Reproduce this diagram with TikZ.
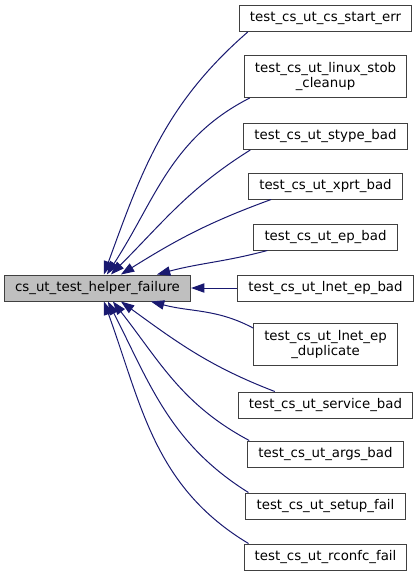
\documentclass[tikz,border=0pt]{standalone}
\usepackage{fontspec}
\setmainfont{DejaVu Sans}
\usetikzlibrary{arrows.meta,calc}
\definecolor{Edge}{HTML}{191970}
\definecolor{Frame}{HTML}{404040}
\definecolor{Focus}{HTML}{BFBFBF}

\begin{document}
\begin{tikzpicture}[x=0.75pt,y=0.75pt,
    func/.style={draw=Frame,fill=white,line width=0.75pt,minimum height=19.5pt,
      inner xsep=8pt,inner ysep=2pt,font=\fontsize{10}{11.5}\selectfont,align=center},
    cur/.style={func,fill=Focus},
    call/.style={Edge,line width=0.75pt,-{Triangle[length=10pt,width=7pt]}}
  ]
    \useasboundingbox (0,0) rectangle (419,-576);
    \node[cur] (main) at (97.5,-288) {cs\_ut\_test\_helper\_failure};
    \node[func] (c1) at (325.5,-18.5) {test\_cs\_ut\_cs\_start\_err};
    \node[func,minimum height=31.5pt] (c2) at (325.5,-76.5) {test\_cs\_ut\_linux\_stob\\\_cleanup};
    \node[func] (c3) at (325.5,-136.5) {test\_cs\_ut\_stype\_bad};
    \node[func] (c4) at (325.5,-186) {test\_cs\_ut\_xprt\_bad};
    \node[func] (c5) at (325.5,-237) {test\_cs\_ut\_ep\_bad};
    \node[func] (c6) at (325.5,-288) {test\_cs\_ut\_lnet\_ep\_bad};
    \node[func,minimum height=31.5pt] (c7) at (325.5,-344.5) {test\_cs\_ut\_lnet\_ep\\\_duplicate};
    \node[func] (c8) at (325.5,-405) {test\_cs\_ut\_service\_bad};
    \node[func] (c9) at (325.5,-454) {test\_cs\_ut\_args\_bad};
    \node[func] (c10) at (325.5,-506) {test\_cs\_ut\_setup\_fail};
    \node[func] (c11) at (325.5,-557) {test\_cs\_ut\_rconfc\_fail};
    % callers above the box
    \foreach \c/\dx/\o/\i/\mx in {c1/9/221/70/100,c2/6/207/57/103,c3/7/212/45/107,
        c4/23/200/32/117,c5/14/195/15/153}
      \draw[call] ($(\c.south west)+(\dx,0)$) to[out=\o,in=\i] ($(main.north west)+(\mx,0)$);
    \draw[call] (c6) -- (main);
    % callers below the box
    \foreach \c/\dx/\dy/\o/\i/\mx in {c7/0/-5/152/345/147,c8/37/0/159/324/117,
        c9/2/0/152/308/109,c10/3/0/148/297/104,c11/5/0/149/290/100}
      \draw[call] ($(\c.north west)+(\dx,\dy)$) to[out=\o,in=\i] ($(main.south west)+(\mx,0)$);
  \end{tikzpicture}
\end{document}
